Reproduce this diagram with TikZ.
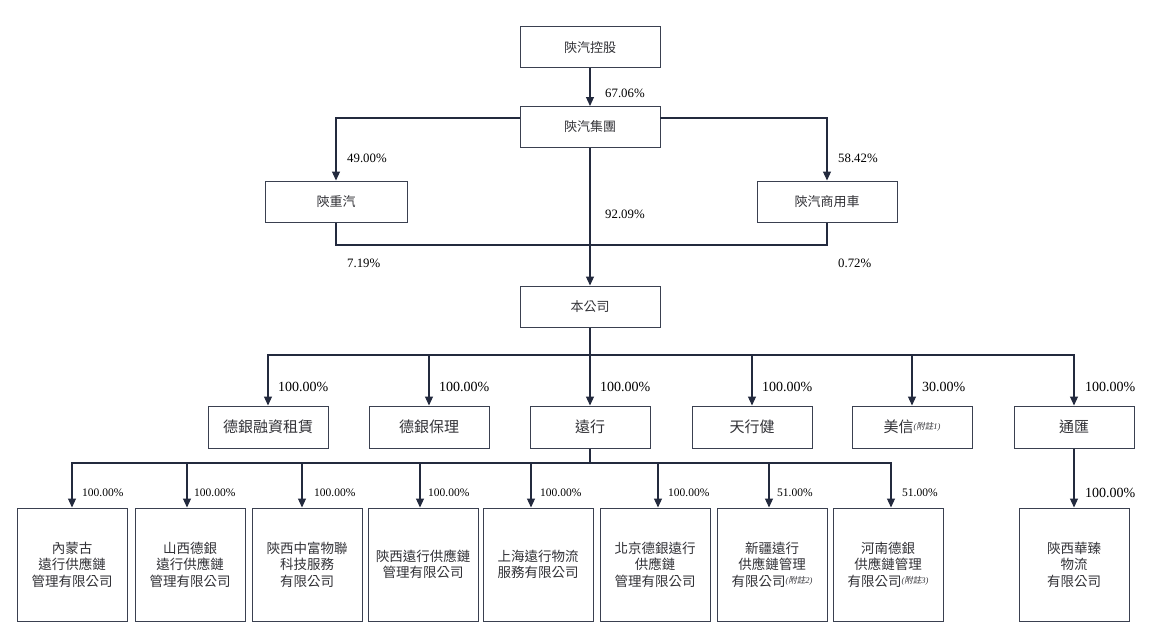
\documentclass[tikz,border=0pt]{standalone}
\usepackage{fontspec}
\setmainfont{Liberation Serif}
\newfontfamily\cjk{Noto Sans CJK TC}
\newfontfamily\cjkit[FakeSlant=0.2]{Noto Sans CJK TC}
\usetikzlibrary{arrows.meta}
\definecolor{boxc}{RGB}{58,64,80}
\definecolor{linec}{RGB}{35,42,62}
\definecolor{textc}{RGB}{50,50,55}
\newcommand{\fnote}[1]{\raisebox{3pt}{\fontsize{8.5}{8.5}\selectfont\rmfamily\itshape(\cjkit 附註\rmfamily\itshape #1)}}
\begin{document}
\begin{tikzpicture}[x=1pt,y=-1pt,
  box/.style={draw=boxc, line width=1pt, fill=white, text=textc, inner sep=0pt, align=center},
  topbox/.style={box, minimum width=140pt, minimum height=41pt, font=\cjk\fontsize{13}{16}\selectfont},
  midbox/.style={box, minimum width=120pt, minimum height=42pt, font=\cjk\fontsize{15}{18}\selectfont},
  lowbox/.style={box, minimum width=110pt, minimum height=113pt, font=\cjk\fontsize{13.5}{16.5}\selectfont},
  arr/.style={draw=linec, line width=1.1pt, -{Triangle[width=8pt,length=9pt]}},
  ln/.style={draw=linec, line width=1.1pt},
  pct/.style={anchor=west, inner sep=0pt, text=black, font=\fontsize{12.8}{14}\selectfont},
  pctm/.style={pct, font=\fontsize{14}{16}\selectfont},
  pcts/.style={pct, font=\fontsize{11.5}{13}\selectfont}
]
\useasboundingbox (0,0) rectangle (1154,642);
\fill[white] (0,0) rectangle (1154,642);

% top level
\node[topbox] (kg) at (590,47.5) {陝汽控股};
\node[topbox] (grp) at (590,127) {陝汽集團};
\node[topbox, minimum width=142pt] (szq) at (336,201.5) {陝重汽};
\node[topbox] (cv) at (827,201.5) {陝汽商用車};
\node[topbox] (ben) at (590,306.5) {本公司};

\coordinate (gl) at (520,118);
\coordinate (gr) at (660,118);
\coordinate (j) at (590,245);

\draw[arr] (kg.south) -- (grp.north);
\draw[arr] (gl) -| (szq.north);
\draw[arr] (gr) -| (cv.north);
\draw[ln] (szq.south) |- (j) -| (cv.south);
\draw[arr] (grp.south) -- (ben.north);

\node[pct] (p1) at (605,93) {67.06\%};
\node[pct] (p2) at (347,158) {49.00\%};
\node[pct] (p3) at (838,158) {58.42\%};
\node[pct] (p4) at (605,214) {92.09\%};
\node[pct] (p5) at (347,263) {7.19\%};
\node[pct] (p6) at (838,263) {0.72\%};

% level 2
\node[midbox] (a1) at (268,427) {德銀融資租賃};
\node[midbox] (a2) at (429,427) {德銀保理};
\node[midbox] (a3) at (590,427) {遠行};
\node[midbox] (a4) at (752,427) {天行健};
\node[midbox] (a5) at (912,427) {美信\fnote{1}};
\node[midbox] (a6) at (1074,427) {通匯};

\coordinate (bar2) at (590,355);
\draw[ln] (ben.south) -- (bar2);
\foreach \n in {a1,a2,a3,a4,a5,a6} \draw[arr] (bar2) -| (\n.north);

\node[pctm] (q1) at (278,387) {100.00\%};
\node[pctm] (q2) at (439,387) {100.00\%};
\node[pctm] (q3) at (600,387) {100.00\%};
\node[pctm] (q4) at (762,387) {100.00\%};
\node[pctm] (q5) at (922,387) {30.00\%};
\node[pctm] (q6) at (1085,387) {100.00\%};

% level 3
\node[lowbox] (b1) at (72,564.5) {內蒙古\\遠行供應鏈\\管理有限公司};
\node[lowbox] (b2) at (190,564.5) {山西德銀\\遠行供應鏈\\管理有限公司};
\node[lowbox] (b3) at (307,564.5) {陝西中富物聯\\科技服務\\有限公司};
\node[lowbox] (b4) at (423,564.5) {陝西遠行供應鏈\\管理有限公司};
\node[lowbox] (b5) at (538,564.5) {上海遠行物流\\服務有限公司};
\node[lowbox] (b6) at (655,564.5) {北京德銀遠行\\供應鏈\\管理有限公司};
\node[lowbox] (b7) at (772,564.5) {新疆遠行\\供應鏈管理\\有限公司\fnote{2}};
\node[lowbox] (b8) at (888,564.5) {河南德銀\\供應鏈管理\\有限公司\fnote{3}};
\node[lowbox] (b9) at (1074,564.5) {陝西華臻\\物流\\有限公司};

\coordinate (bar3) at (590,463);
\draw[ln] (a3.south) -- (bar3);
\draw[arr] (bar3) -| (b1.north);
\draw[arr] (bar3) -| ([xshift=-3pt]b2.north);
\draw[arr] (bar3) -| ([xshift=-5pt]b3.north);
\draw[arr] (bar3) -| ([xshift=-3pt]b4.north);
\draw[arr] (bar3) -| ([xshift=-7pt]b5.north);
\draw[arr] (bar3) -| ([xshift=3pt]b6.north);
\draw[arr] (bar3) -| ([xshift=-3pt]b7.north);
\draw[arr] (bar3) -| ([xshift=3pt]b8.north);
\draw[arr] (a6.south) -- (b9.north);

\node[pcts] (r1) at (82,493) {100.00\%};
\node[pcts] (r2) at (194,493) {100.00\%};
\node[pcts] (r3) at (314,493) {100.00\%};
\node[pcts] (r4) at (428,493) {100.00\%};
\node[pcts] (r5) at (540,493) {100.00\%};
\node[pcts] (r6) at (668,493) {100.00\%};
\node[pcts] (r7) at (777,493) {51.00\%};
\node[pcts] (r8) at (902,493) {51.00\%};
\node[pctm] (r9) at (1085,493) {100.00\%};
\end{tikzpicture}
\end{document}
